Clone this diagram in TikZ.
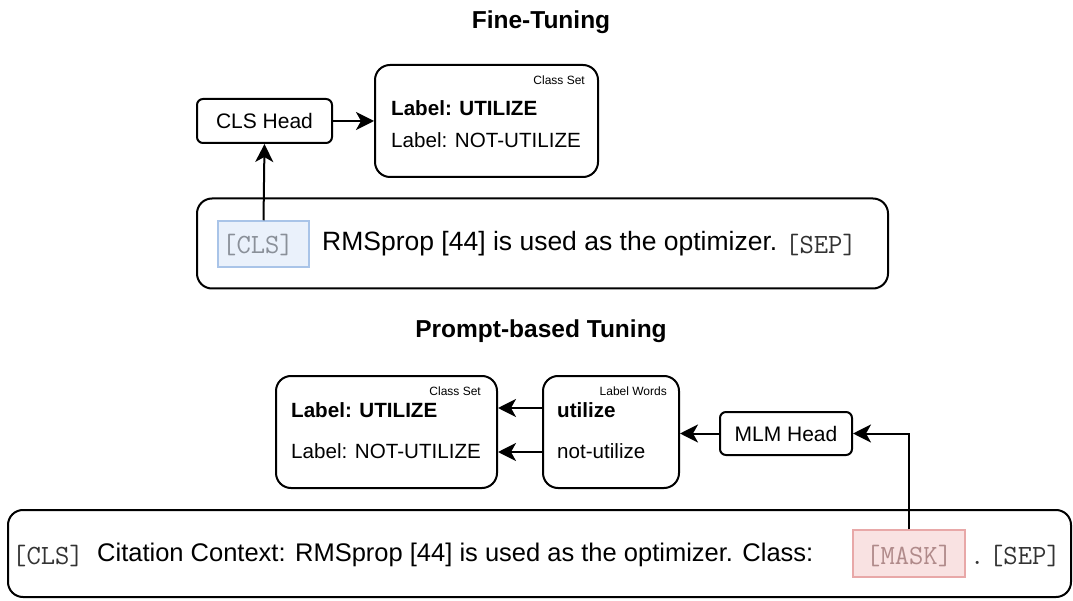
\documentclass[tikz,border=0pt]{standalone}
\usepackage{fontspec}
\setmainfont{Liberation Sans}
\usepackage{xcolor}
\usetikzlibrary{arrows.meta, positioning}

\definecolor{clsfill}{HTML}{EAF1FB}
\definecolor{clsdraw}{HTML}{A9C4E8}
\definecolor{maskfill}{HTML}{F9E2E2}
\definecolor{maskdraw}{HTML}{E8A8A8}
\definecolor{tokgray}{HTML}{8A9099}
\definecolor{maskgray}{HTML}{B08A8A}

\newcommand{\fs}[1]{\fontsize{#1}{#1}\selectfont}

\begin{document}
\begin{tikzpicture}[
    x=1pt, y=-1pt,
    head/.style={rectangle, draw, line width=2pt, rounded corners=6pt, inner sep=0pt, font=\fs{21}},
    setbox/.style={rectangle, draw, line width=2pt, rounded corners=15pt, inner sep=0pt},
    sentbox/.style={rectangle, draw, line width=2pt, rounded corners=15pt, inner sep=0pt},
    tokbox/.style={rectangle, inner sep=0pt, line width=1.5pt},
    tok/.style={font=\ttfamily\fs{27.8}, inner sep=0pt, anchor=west},
    sent/.style={font=\fs{25.5}, inner sep=0pt, anchor=west},
    lbl/.style={font=\fs{20.6}, inner sep=0pt, anchor=west},
    tag/.style={font=\fs{12}, inner sep=0pt, anchor=east},
    title/.style={font=\bfseries\fs{24.5}, inner sep=0pt},
    arrow/.style={line width=2pt, -{Stealth[length=18pt, width=18pt, inset=5pt]}}
]
\useasboundingbox (0,0) rectangle (1073,601);

% Fine-Tuning
\node[title] (ftitle) at (541,22) {Fine-Tuning};

\node[head, minimum width=135pt, minimum height=44pt] (clshead) at (264.5,121) {CLS Head};
\node[setbox, minimum width=223pt, minimum height=112pt] (ftset) at (486.5,121) {};
\node[tag] (ftsettag) at (585,80) {Class Set};
\node[lbl, font=\bfseries\fs{20.6}] (ftuse) at (391,108) {Label: UTILIZE};
\node[lbl] (ftnot) at (391,140) {Label: NOT-UTILIZE};

\node[sentbox, minimum width=691pt, minimum height=90pt] (ftsent) at (542.5,243.5) {};
\node[tokbox, fill=clsfill, draw=clsdraw, minimum width=91pt, minimum height=46pt] (ftcls) at (263.5,244) {};
\node[tok, text=tokgray] (ftclstxt) at (222,245) {[CLS]};
\node[sent, font=\fs{26.5}] (fttext) at (322,244) {RMSprop [44] is used as the optimizer.};
\node[tok, text=black!80] (ftsep) at (785,245) {[SEP]};

\draw[arrow] (ftcls.north) -- (clshead.south);
\draw[arrow] (clshead.east) -- (ftset.west);

% Prompt-based Tuning
\node[title] (ptitle) at (541,331) {Prompt-based Tuning};

\node[setbox, minimum width=221pt, minimum height=112pt] (ptset) at (386.5,432) {};
\node[tag] (ptsettag) at (481,391) {Class Set};
\node[lbl, font=\bfseries\fs{20.6}] (ptuse) at (291,410) {Label: UTILIZE};
\node[lbl] (ptnot) at (291,451) {Label: NOT-UTILIZE};

\node[setbox, minimum width=136pt, minimum height=112pt] (words) at (611,432) {};
\node[tag] (wordstag) at (667,391) {Label Words};
\node[lbl, font=\bfseries\fs{20.6}] (wuse) at (557,410) {utilize};
\node[lbl] (wnot) at (557,451) {not-utilize};

\node[head, minimum width=132pt, minimum height=43pt] (mlmhead) at (786,433.5) {MLM Head};

\node[sentbox, minimum width=1063pt, minimum height=87pt] (ptsent) at (539.5,553.5) {};
\node[tokbox, fill=maskfill, draw=maskdraw, minimum width=112pt, minimum height=47pt] (mask) at (909,553.5) {};
\node[tok, text=black!80] (ptcls) at (12,556) {[CLS]};
\node[sent] (pttext) at (97,555) {Citation Context: RMSprop [44] is used as the optimizer. Class:};
\node[tok, text=maskgray] (masktxt) at (866,556) {[MASK]};
\node[tok, text=black!80] (ptsep) at (970,556) {.\,[SEP]};

\coordinate (bend) at (mask.north |- mlmhead.east);
\draw[arrow] (mask.north) -- (bend) -- (mlmhead.east);
\draw[arrow] (mlmhead.west) -- (words.east |- mlmhead.west);
\draw[arrow] (words.west |- 0,408) -- (ptset.east |- 0,408);
\draw[arrow] (words.west |- 0,452) -- (ptset.east |- 0,452);

\end{tikzpicture}
\end{document}
